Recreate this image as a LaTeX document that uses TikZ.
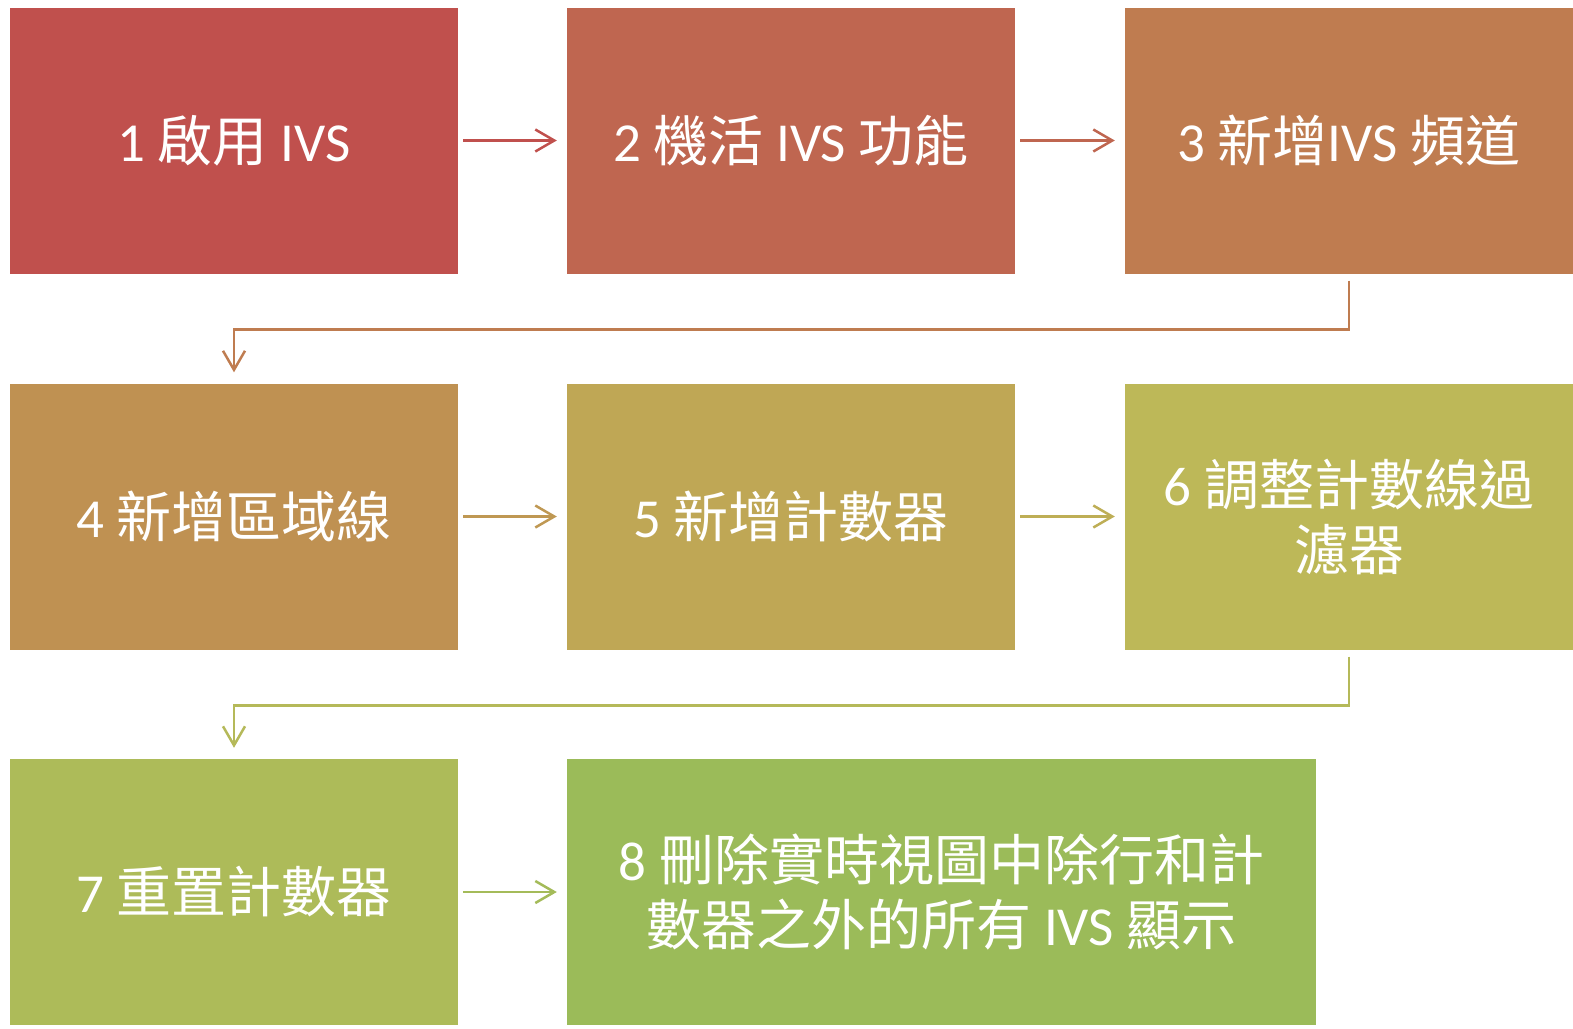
\documentclass[tikz,border=0pt]{standalone}
\usepackage{fontspec}
\setmainfont{Carlito}
\newfontfamily\cjk{Noto Sans CJK TC}
\usetikzlibrary{arrows.meta}
\newcommand\zh[1]{{\cjk #1}}
\definecolor{cA}{HTML}{C0504D}
\definecolor{cB}{HTML}{BF6650}
\definecolor{cC}{HTML}{BF7C50}
\definecolor{cD}{HTML}{BF9152}
\definecolor{cE}{HTML}{BFA755}
\definecolor{cF}{HTML}{BDB858}
\definecolor{cG}{HTML}{ADBB59}
\definecolor{cH}{HTML}{9BBB59}
\tikzset{
  box/.style={rectangle, minimum width=448pt, minimum height=266pt, inner sep=0pt,
    text=white, align=center, font=\fontsize{55}{65}\selectfont},
  arr/.style={line width=2.5pt, -{Straight Barb[length=19pt,width=22pt,line width=2.5pt]}},
  harr/.style={arr, shorten <=5pt, shorten >=10pt}
}
\begin{document}
\begin{tikzpicture}[x=1pt,y=-1pt]
\useasboundingbox (0,0) rectangle (1573,1028);
\node[box, fill=cA] (b1) at (234,140.5) {1 \zh{啟用} IVS};
\node[box, fill=cB] (b2) at (791,140.5) {2 \zh{機活} IVS \zh{功能}};
\node[box, fill=cC] (b3) at (1349,140.5) {3 \zh{新增}IVS \zh{頻道}};
\node[box, fill=cD] (b4) at (234,516.5) {4 \zh{新增區域線}};
\node[box, fill=cE] (b5) at (791,516.5) {5 \zh{新增計數器}};
\node[box, fill=cF] (b6) at (1349,516.5) {6 \zh{調整計數線過}\\\zh{濾器}};
\node[box, fill=cG] (b7) at (234,892) {7 \zh{重置計數器}};
\node[box, fill=cH, minimum width=749pt] (b8) at (941.5,892) {8 \zh{刪除實時視圖中除行和計}\\\zh{數器之外的所有} IVS \zh{顯示}};
\draw[harr, color=cA] (b1) -- (b2);
\draw[harr, color=cB] (b2) -- (b3);
\draw[arr, color=cC] ([yshift=-7pt]b3.south) -- ++(0,49) -| ([yshift=11pt]b4.north);
\draw[harr, color=cD!70!cE] (b4) -- (b5);
\draw[harr, color=cE!60!cF] (b5) -- (b6);
\draw[arr, color=cF!50!cG] ([yshift=-7pt]b6.south) -- ++(0,49) -| ([yshift=11pt]b7.north);
\draw[harr, color=cG!50!cH] (b7.east) -- (b7.east -| b8.west);
\end{tikzpicture}
\end{document}
